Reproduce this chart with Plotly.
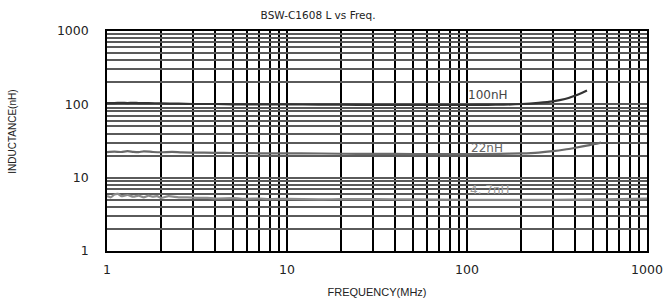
import plotly.graph_objects as go
import numpy as np

# ---- data ----
freq_100 = [1.0, 1.1, 1.2, 1.3, 1.4, 1.5, 1.7, 2.0, 2.5, 3.0, 4.0, 5.0, 7.0, 10, 15, 20, 30, 50, 70, 100, 130, 160, 200, 250, 300, 350, 400, 464]
ind_100 = [104, 104, 105, 104, 105, 104, 104, 103, 102, 101, 101, 100, 100, 100, 99, 99, 98, 98, 98, 98, 98.5, 99, 101, 105, 110, 118, 132, 155]

freq_22 = [1.0, 1.1, 1.2, 1.3, 1.4, 1.5, 1.6, 1.8, 2.0, 2.3, 2.6, 3.0, 4.0, 5.0, 7.0, 10, 12, 20, 30, 50, 100, 150, 200, 250, 300, 350, 400, 480, 555]
ind_22 = [22.3, 22.6, 22.4, 23.0, 22.5, 22.3, 22.9, 22.4, 22.2, 22.5, 22.1, 22.0, 21.8, 21.7, 21.5, 21.4, 21.5, 21.2, 21.1, 21.0, 21.0, 21.1, 21.4, 22.0, 23.0, 24.2, 25.6, 27.8, 30.0]

freq_47 = [1.0, 1.05, 1.1, 1.15, 1.2, 1.3, 1.4, 1.5, 1.6, 1.7, 1.8, 1.9, 2.0, 2.2, 2.5, 2.8, 3.2, 3.6, 4.0, 5.0, 6.0, 7.0, 8.0, 10, 15, 20, 30, 50, 100, 200, 300, 500, 700, 1000]
ind_47 = [5.6, 5.4, 5.9, 6.0, 5.6, 5.8, 5.5, 5.7, 5.4, 5.7, 5.5, 5.6, 5.3, 5.6, 5.4, 5.4, 5.3, 5.3, 5.2, 5.25, 5.15, 5.2, 5.1, 5.15, 5.05, 5.1, 5.1, 5.05, 5.0, 5.0, 5.0, 5.05, 5.1, 5.2]

series_names = ["100nH", "22nH", "4. 7nH"]
series_colors = ["#333333", "#6a6a6a", "#8c8c8c"]
label_pos = [(131, 134), (129, 25.4), (134, 6.8)]

x_ticks = [1, 10, 100, 1000]
y_ticks = [1, 10, 100, 1000]

# minor grid positions (1..9 in each decade)
x_grid = [m * 10 ** d for d in range(0, 3) for m in range(1, 10)] + [1000]
y_grid = [m * 10 ** d for d in range(0, 3) for m in range(1, 10)] + [1000]
x_text = [str(v) if v in x_ticks else "" for v in x_grid]
y_text = [str(v) if v in y_ticks else "" for v in y_grid]

WIDE = "DejaVu Sans, Verdana, sans-serif"

fig = go.Figure()
for f, v, name, col, w in zip([freq_100, freq_22, freq_47], [ind_100, ind_22, ind_47],
                              series_names, series_colors, [2.2, 2.2, 2.2]):
    fig.add_trace(go.Scatter(x=f, y=v, mode="lines", name=name,
                             line=dict(color=col, width=w, shape="spline", smoothing=0.6)))

for (lx, ly), name, col in zip(label_pos, series_names, ["#444444", "#666666", "#9a9a9a"]):
    fig.add_annotation(x=np.log10(lx), y=np.log10(ly), text=name, showarrow=False,
                       font=dict(size=12, color=col, family=WIDE),
                       xanchor="center", yanchor="middle")

fig.update_layout(
    width=671, height=303,
    margin=dict(l=107, r=24, t=31, b=52, autoexpand=False),
    paper_bgcolor="white", plot_bgcolor="white",
    showlegend=False,
    font=dict(family="Liberation Sans, Arial", size=12, color="#222222"),
    title=dict(text="BSW-C1608 L vs Freq.", x=0.474, xanchor="center", xref="container",
               y=0.95, yanchor="middle", yref="container",
               font=dict(size=10.5, color="#222222", family=WIDE)),
)

fig.update_xaxes(type="log", range=[0, 3], tickmode="array", tickvals=x_grid, ticktext=x_text,
                 showgrid=True, gridcolor="#000000", gridwidth=1.6,
                 showline=True, linecolor="#000000", linewidth=1.6, mirror=True,
                 ticks="", ticklabelstandoff=6, tickfont=dict(size=12.5, family=WIDE), automargin=False,
                 title=dict(text="FREQUENCY(MHz)", font=dict(size=11), standoff=13),
                 zeroline=False)
fig.update_yaxes(type="log", range=[0, 3], tickmode="array", tickvals=y_grid, ticktext=y_text,
                 showgrid=True, gridcolor="#5a5a5a", gridwidth=1.5,
                 showline=True, linecolor="#000000", linewidth=1.6, mirror=True,
                 ticks="", ticklabelstandoff=14, tickfont=dict(size=12.5, family=WIDE), automargin=False,
                 zeroline=False)

fig.add_annotation(text="INDUCTANCE(nH)", xref="paper", yref="paper", x=-0.175, y=0.54,
                   textangle=-90, showarrow=False, xanchor="center", yanchor="middle",
                   font=dict(size=10, color="#222222"))

fig.write_html("out.html", config={"displayModeBar": False},
               post_script="document.body.style.margin='0';document.body.style.overflow='hidden';")
